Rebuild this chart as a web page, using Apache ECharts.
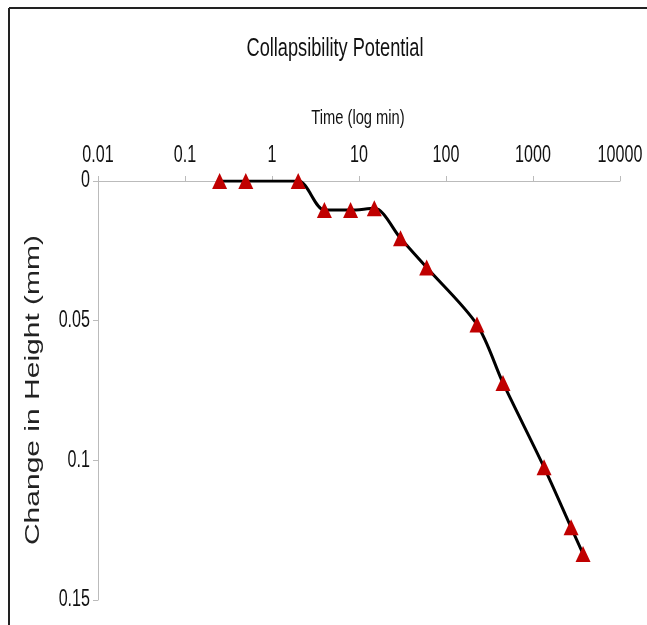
<!DOCTYPE html>
<html>
<head>
<meta charset="utf-8">
<script src="https://cdn.jsdelivr.net/npm/echarts@6/dist/echarts.min.js"></script>
<style>
html,body{margin:0;padding:0;background:#fff;}
#c{width:647px;height:625px;}
</style>
</head>
<body>
<div id="c"></div>
<script>
const timeMin = [0.25, 0.5, 2, 4, 8, 15, 30, 60, 227, 452, 1340, 2740, 3760];
const heightChange = [0, 0, 0, 0.0104, 0.0104, 0.0098, 0.0205, 0.031, 0.0514, 0.0723, 0.1025, 0.124, 0.1335];
const xTickValues = [0.01, 0.1, 1, 10, 100, 1000, 10000];
const xTickLabels = ['0.01', '0.1', '1', '10', '100', '1000', '10000'];
const yTickValues = [0, 0.05, 0.1, 0.15];
const yTickLabels = ['0', '0.05', '0.1', '0.15'];
const titleText = 'Collapsibility Potential';
const xName = 'Time (log min)';
const yName = 'Change in Height (mm)';

const FONT = "'Liberation Sans', Arial, Helvetica, sans-serif";
const SQ = 0.7; // horizontal squeeze of the original picture's text

const chart = echarts.init(document.getElementById('c'));
chart.setOption({
  animation: false,
  backgroundColor: '#fff',
  grid: {left: 98, right: 27, top: 181, bottom: 25, containLabel: false},
  xAxis: {
    type: 'log', logBase: 10, min: 0.01, max: 10000, position: 'top',
    axisLine: {show: true, lineStyle: {color: '#bbb', width: 1}},
    axisTick: {show: true, length: 5, lineStyle: {color: '#bbb'}},
    axisLabel: {show: false},
    splitLine: {show: false}, minorTick: {show: false}
  },
  yAxis: {
    type: 'value', inverse: true, min: 0, max: 0.15, interval: 0.05,
    axisLine: {show: true, lineStyle: {color: '#bbb', width: 1}},
    axisTick: {show: true, length: 5, lineStyle: {color: '#bbb'}},
    axisLabel: {show: false},
    splitLine: {show: false}
  },
  series: [{
    type: 'line',
    data: timeMin.map((t, i) => [t, heightChange[i]]),
    smooth: 0.3,
    lineStyle: {color: '#000', width: 3},
    symbol: 'triangle', symbolSize: [15, 16],
    itemStyle: {color: '#C00000'},
    z: 3
  }]
});

function txt(x, y, text, size, align, vAlign, opts) {
  return Object.assign({
    type: 'text', x: x, y: y, scaleX: SQ, z: 10,
    style: {text: text, fontFamily: FONT, fontSize: size, fill: '#111',
      align: align, textAlign: align, verticalAlign: vAlign, textVerticalAlign: vAlign}
  }, opts || {});
}

const finder = {xAxisIndex: 0, yAxisIndex: 0};
const g = [
  {type: 'line', shape: {x1: 9, y1: 8, x2: 9, y2: 625}, style: {stroke: '#222', lineWidth: 2}},
  {type: 'line', shape: {x1: 9, y1: 8, x2: 647, y2: 8}, style: {stroke: '#222', lineWidth: 2}},
  txt(335, 49, titleText, 26, 'center', 'middle'),
  txt(358, 118, xName, 21, 'center', 'middle'),
  {type: 'text', x: 33, y: 390, rotation: Math.PI / 2, scaleY: SQ, z: 10,
    style: {text: yName, fontFamily: FONT, fontSize: 30, fill: '#222',
      align: 'center', textAlign: 'center', verticalAlign: 'middle', textVerticalAlign: 'middle'}}
];
xTickValues.forEach((v, i) => {
  const p = chart.convertToPixel(finder, [v, 0]);
  g.push(txt(p[0], p[1] - 25, xTickLabels[i], 23, 'center', 'middle'));
});
yTickValues.forEach((v, i) => {
  const p = chart.convertToPixel(finder, [0.01, v]);
  g.push(txt(p[0] - 8, p[1], yTickLabels[i], 23, 'right', 'middle'));
});
chart.setOption({graphic: g});
</script>
</body>
</html>
